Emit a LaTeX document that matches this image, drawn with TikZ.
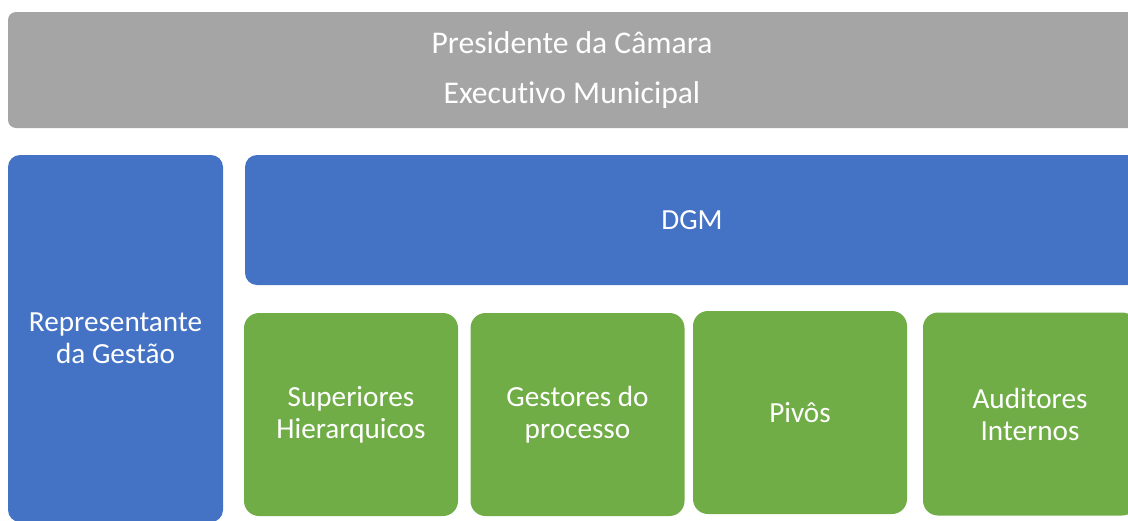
\documentclass[tikz,border=0pt]{standalone}
\usepackage{fontspec}
\setmainfont{Carlito}[Ligatures=NoCommon]
\usepackage{tikz}
\usetikzlibrary{positioning}

\definecolor{cinza}{HTML}{A5A5A5}
\definecolor{azul}{HTML}{4472C4}
\definecolor{verde}{HTML}{70AD47}

\begin{document}
\begin{tikzpicture}[x=0.5pt,y=-0.5pt,
	caixa/.style={rectangle,rounded corners=#1,inner sep=0pt,outer sep=0pt,
		text=white,align=center,font=\fontsize{14.6}{16}\selectfont},
	topo/.style={caixa=4pt,fill=cinza,minimum width=564pt,minimum height=58pt,
		font=\fontsize{15.8}{25}\selectfont},
	gestao/.style={caixa=6pt,fill=azul,minimum width=107.5pt,minimum height=183.5pt},
	direcao/.style={caixa=6pt,fill=azul,minimum width=447pt,minimum height=65pt},
	equipa/.style={caixa=7.5pt,fill=verde,minimum width=107pt,minimum height=101.5pt}]
				\useasboundingbox (0,0) rectangle (1128,520);
				\clip (0,0) rectangle (1128,520);

				%Nodes
				\node[topo] 	(pres) 	at (572,70) 	{Presidente da Câmara\\Executivo Municipal};
				\node[gestao] 	(rep) 	at (115.5,338.5) {Representante\\da Gestão};
				\node[direcao] 	(dgm) 	at (692,220) 	{DGM};
				\node[equipa] 	(sup) 	at (351,414.5) 	{Superiores\\Hierarquicos};
				\node[equipa] 	(gest) 	at (577.5,414.5) {Gestores do\\processo};
				\node[equipa] 	(piv) 	at (800,412.5) 	{Pivôs};
				\node[equipa] 	(aud) 	at (1030,414) 	{Auditores\\Internos};

\end{tikzpicture}
\end{document}
